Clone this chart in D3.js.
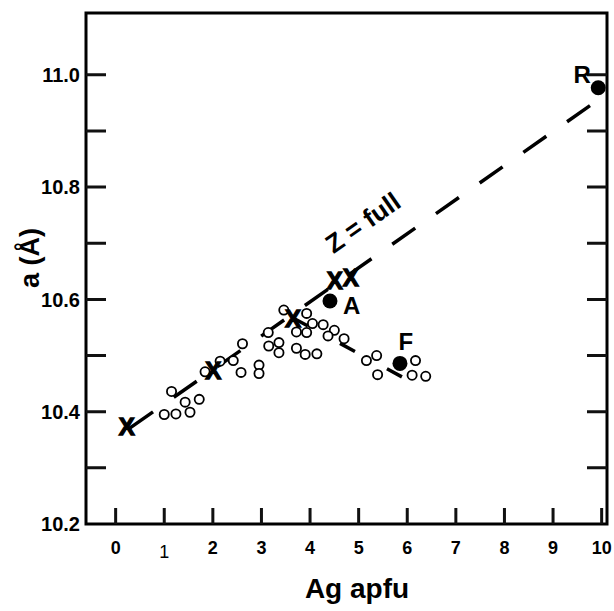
<!DOCTYPE html>
<html>
<head>
<meta charset="utf-8">
<script src="https://cdn.jsdelivr.net/npm/d3@7"></script>
<style>
	body { margin: 0; background: #fff; }
	svg { display: block; font-family: "Liberation Sans", Arial, sans-serif; }
</style>
</head>
<body>
<div id="visHolder"></div>
<script>
// open circles: samples (Ag apfu, a)
const sampleAg = [1.15, 1.00, 1.24, 1.53, 1.43, 1.72, 1.84, 2.15, 2.42, 2.58, 2.95, 2.95, 2.61, 3.14, 3.15, 3.36, 3.36, 3.46, 3.72, 3.90, 4.14, 3.72, 3.93, 3.93, 4.05, 4.27, 4.50, 4.37, 4.70, 5.16, 5.37, 5.39, 6.17, 6.10, 6.38];
const sampleA = [10.436, 10.395, 10.396, 10.399, 10.417, 10.422, 10.471, 10.490, 10.491, 10.470, 10.483, 10.468, 10.521, 10.541, 10.517, 10.523, 10.505, 10.581, 10.513, 10.502, 10.503, 10.542, 10.541, 10.575, 10.557, 10.555, 10.545, 10.535, 10.530, 10.491, 10.500, 10.466, 10.491, 10.465, 10.463];

// crosses
const crossAg = [0.23, 2.01, 3.65, 4.51, 4.84];
const crossA = [10.373, 10.474, 10.566, 10.634, 10.640];

// labelled filled points
const refNames = ["A", "F", "R"];
const refAg = [4.41, 5.85, 9.93];
const refA = [10.597, 10.486, 10.977];

// dashed trend lines [x0, y0, x1, y1]
const fullLine = [0.23, 10.367, 9.76, 10.945];
const partLine = [3.65, 10.567, 5.89, 10.462];

const xTicks = [0, 1, 2, 3, 4, 5, 6, 7, 8, 9, 10];
const yTicks = [10.3, 10.4, 10.5, 10.6, 10.7, 10.8, 10.9, 11.0];
const yLabels = [10.2, 10.4, 10.6, 10.8, 11.0];

const width = 614;
const height = 611;
const plot = { left: 86, top: 13, right: 607, bottom: 524 };
const markLen = 20;
const xMarkLen = 16;
const lineW = 3;

const x = d3.scaleLinear().domain([-0.61, 10.11]).range([plot.left, plot.right]);
const y = d3.scaleLinear().domain([10.2, 11.11]).range([plot.bottom, plot.top]);

const svg = d3
	.select("#visHolder")
	.append("svg")
	.attr("width", width)
	.attr("height", height);

// frame
svg
	.append("rect")
	.attr("x", plot.left)
	.attr("y", plot.top)
	.attr("width", plot.right - plot.left)
	.attr("height", plot.bottom - plot.top)
	.attr("fill", "none")
	.attr("stroke", "#000")
	.attr("stroke-width", lineW);

// inward marks on left, right and bottom
const leftPath = yTicks.map((d) => `M${plot.left},${y(d)}h${markLen}`).join("");
const rightPath = yTicks.map((d) => `M${plot.right},${y(d)}h${-markLen}`).join("");
const bottomPath = xTicks.map((d) => `M${x(d)},${plot.bottom}v${-xMarkLen}`).join("");

svg
	.append("path")
	.attr("d", leftPath + rightPath + bottomPath)
	.attr("fill", "none")
	.attr("stroke", "#111")
	.attr("stroke-width", lineW);

// scale labels
svg
	.append("g")
	.selectAll("text")
	.data(yLabels)
	.join("text")
	.attr("x", plot.left - 6)
	.attr("y", (d) => y(d))
	.attr("dy", "0.36em")
	.attr("text-anchor", "end")
	.attr("font-size", 20)
	.attr("font-weight", "bold")
	.text((d) => d.toFixed(1));

svg
	.append("g")
	.selectAll("text")
	.data(xTicks)
	.join("text")
	.attr("x", (d) => x(d))
	.attr("y", (d) => (d === 1 ? plot.bottom + 34 : plot.bottom + 30))
	.attr("text-anchor", "middle")
	.attr("font-size", 18)
	.attr("font-weight", (d) => (d === 1 ? "normal" : "bold"))
	.text((d) => d);

// axis titles
svg
	.append("text")
	.attr("transform", `translate(39,258) rotate(-90)`)
	.attr("text-anchor", "middle")
	.attr("font-size", 27)
	.attr("font-weight", "bold")
	.text("a (Å)");

svg
	.append("text")
	.attr("x", 357)
	.attr("y", 598)
	.attr("text-anchor", "middle")
	.attr("font-size", 28)
	.attr("font-weight", "bold")
	.text("Ag apfu");

// trend lines, dashes fitted so the line starts after a short gap and ends on a dash
function dashedLine(coords, dash, startGap, count) {
	const x1 = x(coords[0]);
	const y1 = y(coords[1]);
	const x2 = x(coords[2]);
	const y2 = y(coords[3]);
	const len = Math.hypot(x2 - x1, y2 - y1);
	const period = (len - startGap - dash) / count;
	svg
		.append("line")
		.attr("x1", x1)
		.attr("y1", y1)
		.attr("x2", x2)
		.attr("y2", y2)
		.attr("stroke", "#000")
		.attr("stroke-width", 3.5)
		.attr("stroke-dasharray", `${dash},${period - dash}`)
		.attr("stroke-dashoffset", period - startGap);
}

dashedLine(fullLine, 28, 4, 10);
dashedLine(partLine, 17, 0, 2);

// rotated label on the full line
const angle =
	(Math.atan2(y(fullLine[3]) - y(fullLine[1]), x(fullLine[2]) - x(fullLine[0])) * 180) /
	Math.PI;
svg
	.append("text")
	.attr("transform", `translate(368,230) rotate(${angle})`)
	.attr("text-anchor", "middle")
	.attr("font-size", 26)
	.attr("font-weight", "bold")
	.text("Z = full");

// open circles
svg
	.append("g")
	.selectAll("circle")
	.data(d3.range(sampleAg.length))
	.join("circle")
	.attr("cx", (i) => x(sampleAg[i]))
	.attr("cy", (i) => y(sampleA[i]))
	.attr("r", 4.6)
	.attr("fill", "#fff")
	.attr("stroke", "#000")
	.attr("stroke-width", 1.8);

// crosses, heavy X glyphs
svg
	.append("g")
	.selectAll("text")
	.data(d3.range(crossAg.length))
	.join("text")
	.attr("x", (i) => x(crossAg[i]))
	.attr("y", (i) => y(crossA[i]))
	.attr("dy", "0.36em")
	.attr("text-anchor", "middle")
	.attr("font-size", 24)
	.attr("font-weight", "bold")
	.attr("stroke", "#000")
	.attr("stroke-width", 1.3)
	.text("X");

// filled reference points
const refOffsets = { A: [13, 13], F: [6, -13], R: [-16, -5] };
svg
	.append("g")
	.selectAll("circle")
	.data(d3.range(refNames.length))
	.join("circle")
	.attr("cx", (i) => x(refAg[i]))
	.attr("cy", (i) => y(refA[i]))
	.attr("r", 7.5)
	.attr("fill", "#000");

svg
	.append("g")
	.selectAll("text")
	.data(d3.range(refNames.length))
	.join("text")
	.attr("x", (i) => x(refAg[i]) + refOffsets[refNames[i]][0])
	.attr("y", (i) => y(refA[i]) + refOffsets[refNames[i]][1])
	.attr("font-size", 24)
	.attr("font-weight", "bold")
	.attr("text-anchor", (i) => (refNames[i] === "A" ? "start" : "middle"))
	.text((i) => refNames[i]);
</script>
</body>
</html>
